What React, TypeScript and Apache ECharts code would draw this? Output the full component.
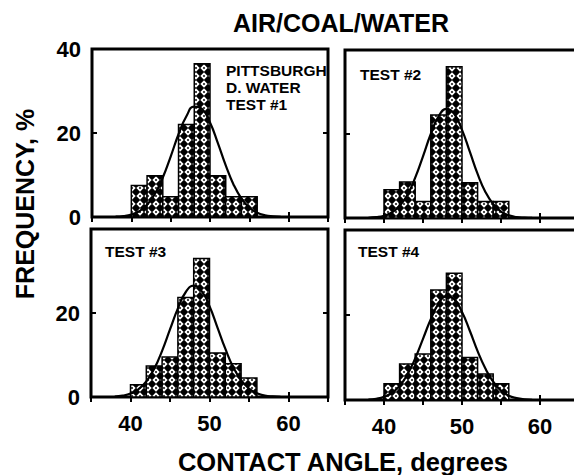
import React, { useEffect, useRef } from 'react';
import * as echarts from 'echarts';

// Histogram bins (contact angle, degrees)
const binEdges = [40, 42, 44, 46, 48, 50, 52, 54, 56];
const test1Freq = [7.5, 9.8, 4.8, 22, 36.5, 9.8, 4.8, 4.8];
const test2Freq = [6.7, 8.6, 3.9, 24.5, 36, 8.4, 3.9, 3.9];
const test3Freq = [2.9, 7.4, 9.5, 23.7, 33, 10.5, 7.9, 4.5];
const test4Freq = [3.8, 8.5, 10.8, 25.9, 29.8, 10, 6.1, 3.8];

// Fitted curves
const curveAngles = [38, 39, 40, 41, 42, 43, 44, 45, 46, 47, 48, 49, 50, 51, 52, 53, 54, 55, 56, 57, 58, 59];
const test1Curve = [0.07, 0.2, 0.57, 1.37, 2.9, 5.5, 9.4, 14.4, 19.7, 24.0, 26.3, 25.7, 22.5, 17.6, 12.3, 7.7, 4.4, 2.2, 1.0, 0.4, 0.15, 0.05];
const test2Curve = [0.06, 0.19, 0.53, 1.3, 2.85, 5.5, 9.6, 14.7, 20.0, 24.2, 26.0, 24.8, 21.0, 15.8, 10.5, 6.2, 3.3, 1.5, 0.64, 0.23, 0.08, 0.03];
const test3Curve = [0.12, 0.32, 0.81, 1.84, 3.7, 6.7, 11.0, 16.1, 21.1, 25.0, 26.5, 25.2, 21.6, 16.6, 11.5, 7.1, 4.0, 2.0, 0.88, 0.36, 0.13, 0.04];
const test4Curve = [0.11, 0.3, 0.74, 1.65, 3.3, 6.0, 9.8, 14.4, 19.0, 22.7, 24.4, 23.7, 20.7, 16.3, 11.5, 7.4, 4.3, 2.2, 1.0, 0.44, 0.16, 0.05];

const xTickLabels = [40, 50, 60];
const yTickLabels = [0, 20, 40];
const panelLabels = [['PITTSBURGH', 'D. WATER', 'TEST #1'], ['TEST #2'], ['TEST #3'], ['TEST #4']];

const FONT = '"Liberation Sans", Arial, Helvetica, sans-serif';

function makePattern() {
  const c = document.createElement('canvas');
  c.width = 8;
  c.height = 8;
  const ctx = c.getContext('2d')!;
  ctx.fillStyle = '#000';
  ctx.fillRect(0, 0, 8, 8);
  ctx.fillStyle = '#fff';
  ctx.beginPath();
  ctx.moveTo(4, 0.3);
  ctx.lineTo(7.7, 4);
  ctx.lineTo(4, 7.7);
  ctx.lineTo(0.3, 4);
  ctx.closePath();
  ctx.fill();
  ctx.strokeStyle = '#000';
  ctx.lineWidth = 0.8;
  ctx.beginPath();
  ctx.moveTo(3.1, 3.1);
  ctx.lineTo(4.9, 4.9);
  ctx.moveTo(4.9, 3.1);
  ctx.lineTo(3.1, 4.9);
  ctx.stroke();
  return { image: c.toDataURL(), repeat: 'repeat', imageWidth: 8, imageHeight: 8 };
}

export default function App() {
  const ref = useRef<HTMLDivElement>(null);
  useEffect(() => {
    if (!ref.current) return;
    const chart = echarts.init(ref.current, undefined, { renderer: 'svg' });
    const pattern = makePattern();

    const grids = [
      { left: 92, top: 49, width: 236, height: 168 },
      { left: 345, top: 50, width: 234, height: 168 },
      { left: 91, top: 229, width: 237, height: 168 },
      { left: 345, top: 230, width: 234, height: 170 },
    ];
    const freqs = [test1Freq, test2Freq, test3Freq, test4Freq];
    const curves = [test1Curve, test2Curve, test3Curve, test4Curve];

    const xAxes: any[] = [];
    const yAxes: any[] = [];
    const series: any[] = [];
    grids.forEach((g, i) => {
      const isBottom = i >= 2;
      const isLeft = i % 2 === 0;
      const tick = { show: true, inside: true, length: 5, lineStyle: { color: '#000', width: 2 } };
      xAxes.push({
        gridIndex: i, type: 'value', min: 35, max: 65, interval: 5, position: 'bottom',
        axisLine: { show: false }, axisTick: tick, splitLine: { show: false },
        axisLabel: {
          show: isBottom, margin: 15, color: '#000', fontSize: 22, fontWeight: 'bold', fontFamily: FONT,
          formatter: (v: number) => (xTickLabels.indexOf(v) >= 0 ? String(v) : ''),
        },
      });
      xAxes.push({
        gridIndex: i, type: 'value', min: 35, max: 65, interval: 5, position: 'top',
        axisLine: { show: false }, axisTick: tick, splitLine: { show: false }, axisLabel: { show: false },
      });
      yAxes.push({
        gridIndex: i, type: 'value', min: 0, max: 40, interval: 20, position: 'left',
        axisLine: { show: false }, axisTick: tick, splitLine: { show: false },
        axisLabel: {
          show: isLeft, margin: 11, color: '#000', fontSize: 22, fontWeight: 'bold', fontFamily: FONT,
          formatter: (v: number) => (yTickLabels.indexOf(v) >= 0 && !(isBottom && v === 40) ? String(v) : ''),
        },
      });
      yAxes.push({
        gridIndex: i, type: 'value', min: 0, max: 40, interval: 20, position: 'right',
        axisLine: { show: false }, axisTick: tick, splitLine: { show: false }, axisLabel: { show: false },
      });
      series.push({
        type: 'custom',
        xAxisIndex: i * 2, yAxisIndex: i * 2,
        data: freqs[i].map((v, k) => [binEdges[k], binEdges[k + 1], v]),
        encode: { x: [0, 1], y: 2 },
        z: 2,
        renderItem: (_p: any, api: any) => {
          const a = api.coord([api.value(0), api.value(2)]);
          const b = api.coord([api.value(1), 0]);
          return {
            type: 'rect',
            shape: { x: a[0], y: a[1], width: b[0] - a[0], height: b[1] - a[1] },
            style: { fill: pattern, stroke: '#000', lineWidth: 1.5 },
          };
        },
      });
      series.push({
        type: 'line',
        xAxisIndex: i * 2, yAxisIndex: i * 2,
        data: curveAngles.map((a, k) => [a, curves[i][k]]),
        smooth: true, showSymbol: false, symbol: 'none', z: 3,
        lineStyle: { color: '#000', width: 2.2 },
      });
    });

    const text = (t: string, x: number, y: number, size: number, align = 'left', rotation = 0) => ({
      type: 'text', x, y, rotation, z: 10,
      style: { text: t, fill: '#000', fontSize: size, fontWeight: 'bold', fontFamily: FONT, align, verticalAlign: 'middle' },
    });

    const graphics: any[] = [
      text('AIR/COAL/WATER', 341, 23, 25, 'center'),
      text('CONTACT ANGLE, degrees', 343, 462, 25.5, 'center'),
      text('FREQUENCY, %', 25, 204, 25, 'center', Math.PI / 2),
      text(panelLabels[0][0], 226, 70, 15.5),
      text(panelLabels[0][1], 226, 87, 15.5),
      text(panelLabels[0][2], 226, 104.5, 15.5),
      text(panelLabels[1][0], 360, 74, 15.5),
      text(panelLabels[2][0], 105, 251, 15.5),
      text(panelLabels[3][0], 358, 251, 15.5),
    ];

    chart.setOption({
      animation: false,
      backgroundColor: '#fff',
      grid: grids.map((g) => ({
        ...g, show: true, borderColor: '#000', borderWidth: 3, backgroundColor: 'transparent',
        containLabel: false, outerBoundsMode: 'none',
      })),
      xAxis: xAxes,
      yAxis: yAxes,
      series,
      graphic: graphics,
    });
    return () => chart.dispose();
  }, []);
  return <div ref={ref} style={{ position: 'absolute', left: 0, top: 0, width: 574, height: 475 }} />;
}
